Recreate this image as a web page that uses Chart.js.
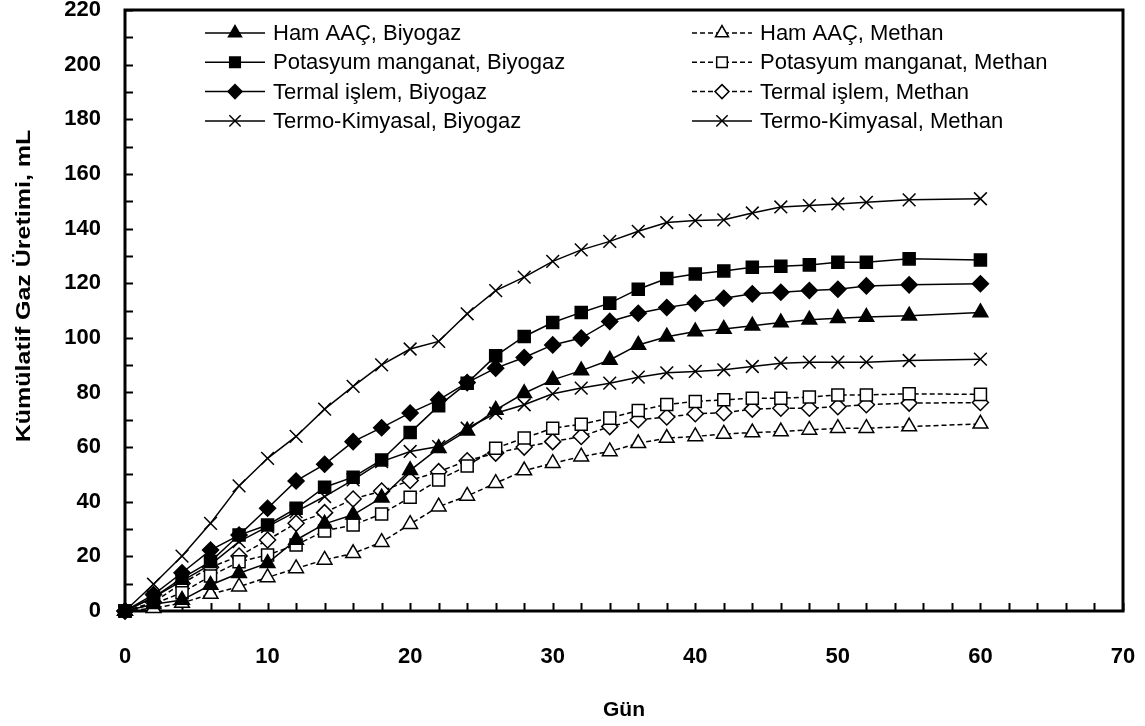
<!DOCTYPE html>
<html lang="tr">
<head>
<meta charset="utf-8">
<script src="https://cdn.jsdelivr.net/npm/chart.js@4.4.1/dist/chart.umd.min.js"></script>
<style>
  html, body { margin: 0; padding: 0; background: #fff; }
</style>
</head>
<body>
<canvas id="c" width="1145" height="726"></canvas>
<script>
// days of sampling
var days = [0, 2, 4, 6, 8, 10, 12, 14, 16, 18, 20, 22, 24, 26, 28, 30, 32, 34, 36, 38, 40, 42, 44, 46, 48, 50, 52, 55, 60];

// cumulative gas, mL
var hamBiyogaz     = [0, 2.5, 4, 9.5, 13.8, 17.5, 26, 31.9, 35.2, 41.5, 51.5, 59.6, 66, 73.6, 79.7, 84.6, 88, 91.9, 97.4, 100.4, 102.3, 103.2, 104.4, 105.6, 106.6, 107.2, 107.6, 108.1, 109.3];
var potBiyogaz     = [0, 5, 12, 18.1, 27.8, 31.5, 37.6, 45.3, 49, 55.3, 65.3, 75.1, 83.4, 93.4, 100.5, 105.6, 109.3, 112.7, 117.8, 121.7, 123.4, 124.5, 125.8, 126.2, 126.7, 127.7, 127.7, 128.9, 128.5];
var termalBiyogaz  = [0, 6, 14, 22.3, 27.8, 37.6, 47.6, 53.7, 62, 67.1, 72.5, 77.3, 83.6, 88.9, 92.8, 97.4, 99.9, 106, 109, 111.1, 112.7, 114.5, 116.1, 116.7, 117.3, 117.8, 119, 119.4, 119.8];
var termoBiyogaz   = [0, 9.8, 20.1, 32.1, 45.8, 55.9, 63.9, 73.9, 82.2, 90.1, 95.9, 98.7, 108.8, 117.3, 122.2, 128, 132.2, 135.3, 139, 142.2, 142.9, 143.2, 145.7, 147.9, 148.4, 149, 149.6, 150.5, 150.9];
var hamMethan      = [0, 1, 2.9, 6.2, 8.9, 12.3, 15.6, 18.7, 21.1, 25.2, 31.8, 38.2, 42.1, 46.8, 51.4, 54.1, 56.5, 58.4, 61.4, 63.3, 63.9, 64.8, 65.3, 65.7, 66.3, 66.9, 66.9, 67.5, 68.5];
var potMethan      = [0, 2.6, 6.7, 12.8, 18, 20.5, 24.2, 29.3, 31.5, 35.5, 41.6, 48, 53.1, 59.6, 63.3, 66.9, 68.4, 70.6, 73.4, 75.6, 76.7, 77.3, 77.9, 77.9, 78.3, 79.1, 79.1, 79.5, 79.3];
var termalMethan   = [0, 3.2, 10.1, 16, 20.1, 26, 32.1, 36, 41, 43.9, 47.8, 51, 55, 57.8, 60, 62, 63.9, 67.5, 70, 71, 72.2, 72.6, 73.9, 74.2, 74.2, 74.8, 75.5, 76.1, 76.3];
var termoMethan    = [0, 5, 11, 17, 25.4, 30.9, 36.4, 41.9, 48, 54.7, 58.4, 60.2, 66.9, 72.4, 75.5, 79.5, 81.6, 83.4, 85.6, 87.2, 87.7, 88.3, 89.5, 90.7, 91.1, 91.1, 91.1, 91.7, 92.2];

var seriesNames = [
  'Ham AAÇ, Biyogaz', 'Potasyum manganat, Biyogaz', 'Termal işlem, Biyogaz', 'Termo-Kimyasal, Biyogaz',
  'Ham AAÇ, Methan', 'Potasyum manganat, Methan', 'Termal işlem, Methan', 'Termo-Kimyasal, Methan'
];
var seriesValues = [hamBiyogaz, potBiyogaz, termalBiyogaz, termoBiyogaz, hamMethan, potMethan, termalMethan, termoMethan];

var yTitle = 'Kümülatif Gaz Üretimi, mL';
var xTitle = 'Gün';

var FONT = '"Liberation Sans", Arial, sans-serif';

function pts(vals) {
  return vals.map(function (v, i) { return { x: days[i], y: v }; });
}

// marker styles per series
var styles = [
  { pointStyle: 'triangle', radius: 8.5, fill: '#000', dash: [] },
  { pointStyle: 'rect', radius: 8.5, fill: '#000', dash: [] },
  { pointStyle: 'rectRot', radius: 8, fill: '#000', dash: [] },
  { pointStyle: 'crossRot', radius: 9, fill: '#000', dash: [] },
  { pointStyle: 'triangle', radius: 8.5, fill: '#fff', dash: [5, 3] },
  { pointStyle: 'rect', radius: 8.5, fill: '#fff', dash: [5, 3] },
  { pointStyle: 'rectRot', radius: 8, fill: '#fff', dash: [5, 3] },
  { pointStyle: 'crossRot', radius: 9, fill: '#fff', dash: [] }
];

var datasets = seriesValues.map(function (vals, i) {
  var s = styles[i];
  return {
    label: seriesNames[i],
    data: pts(vals),
    borderColor: '#000',
    borderWidth: 1.5,
    borderDash: s.dash,
    pointStyle: s.pointStyle,
    pointRadius: s.radius,
    pointHoverRadius: s.radius,
    pointBackgroundColor: s.fill,
    pointBorderColor: '#000',
    pointBorderWidth: 1.5,
    tension: 0,
    fill: false,
    clip: false
  };
});

// no extra room for overflowing edge labels
function noPad(s) {
  s.paddingTop = 0; s.paddingBottom = 0; s.paddingLeft = 0; s.paddingRight = 0;
}

// frame + inward tick marks
var frameTicks = {
  id: 'frameTicks',
  beforeDatasetsDraw: function (chart) {
    var ctx = chart.ctx, a = chart.chartArea;
    var xs = chart.scales.x, ys = chart.scales.y;
    ctx.save();
    ctx.strokeStyle = '#000';
    ctx.lineWidth = 2;
    xs.ticks.forEach(function (t) {
      var px = Math.round(xs.getPixelForValue(t.value)) + 0.5;
      ctx.beginPath(); ctx.moveTo(px, a.bottom); ctx.lineTo(px, a.bottom - 8); ctx.stroke();
    });
    ys.ticks.forEach(function (t) {
      var py = Math.round(ys.getPixelForValue(t.value)) + 0.5;
      ctx.beginPath(); ctx.moveTo(a.left, py); ctx.lineTo(a.left + 8, py); ctx.stroke();
    });
    ctx.lineWidth = 3;
    ctx.strokeRect(a.left, a.top, a.right - a.left, a.bottom - a.top);
    ctx.restore();
  }
};

// y title, a bit stretched along its length like the original
var yTitlePlugin = {
  id: 'yTitlePlugin',
  afterDraw: function (chart) {
    var ctx = chart.ctx;
    ctx.save();
    ctx.translate(24, 286);
    ctx.rotate(-Math.PI / 2);
    ctx.scale(1.25, 1);
    ctx.font = 'bold 20px ' + FONT;
    ctx.textAlign = 'center';
    ctx.textBaseline = 'middle';
    ctx.fillStyle = '#000';
    ctx.fillText(yTitle, 0, 0);
    ctx.restore();
  }
};

// legend: line with marker in the middle, two columns
var lineLegend = {
  id: 'lineLegend',
  afterDraw: function (chart) {
    var ctx = chart.ctx;
    ctx.save();
    ctx.font = '22px ' + FONT;
    ctx.textBaseline = 'middle';
    chart.data.datasets.forEach(function (ds, i) {
      var col = i < 4 ? 0 : 1, row = i % 4;
      var x0 = col === 0 ? 205 : 692;
      var y = 33 + row * 29.3;
      ctx.strokeStyle = '#000';
      ctx.lineWidth = 1.5;
      ctx.setLineDash(ds.borderDash);
      ctx.beginPath(); ctx.moveTo(x0, y); ctx.lineTo(x0 + 60, y); ctx.stroke();
      ctx.setLineDash([]);
      ctx.fillStyle = ds.pointBackgroundColor;
      Chart.helpers.drawPoint(ctx, {
        pointStyle: ds.pointStyle, radius: ds.pointRadius - 1, borderWidth: 1.5, rotation: 0
      }, x0 + 30, y);
      ctx.fillStyle = '#000';
      ctx.fillText(ds.label, x0 + 68, y + 1);
    });
    ctx.restore();
  }
};

new Chart(document.getElementById('c'), {
  type: 'line',
  data: { datasets: datasets },
  options: {
    responsive: false,
    animation: false,
    devicePixelRatio: 1,
    layout: { autoPadding: false, padding: { top: 10, right: 22, left: 0, bottom: 0 } },
    plugins: { legend: { display: false }, tooltip: { enabled: false } },
    scales: {
      x: {
        type: 'linear', min: 0, max: 70,
        grid: { display: false }, border: { display: false },
        ticks: {
          stepSize: 2, autoSkip: false, maxRotation: 0, padding: 25, color: '#000',
          font: { family: FONT, size: 22, weight: 'bold' },
          callback: function (v) { return v % 10 === 0 ? v : ''; }
        },
        title: { display: true, text: xTitle, color: '#000', padding: { top: 0, bottom: 3 },
                 font: { family: FONT, size: 21, weight: 'bold' } },
        afterFit: function (s) { s.height = 115; noPad(s); }
      },
      y: {
        min: 0, max: 220,
        grid: { display: false }, border: { display: false },
        ticks: {
          stepSize: 10, autoSkip: false, padding: 16, color: '#000',
          font: { family: FONT, size: 22, weight: 'bold' },
          callback: function (v) { return v % 20 === 0 ? v : ''; }
        },
        afterFit: function (s) { s.width = 125; noPad(s); }
      }
    }
  },
  plugins: [frameTicks, yTitlePlugin, lineLegend]
});
</script>
</body>
</html>
